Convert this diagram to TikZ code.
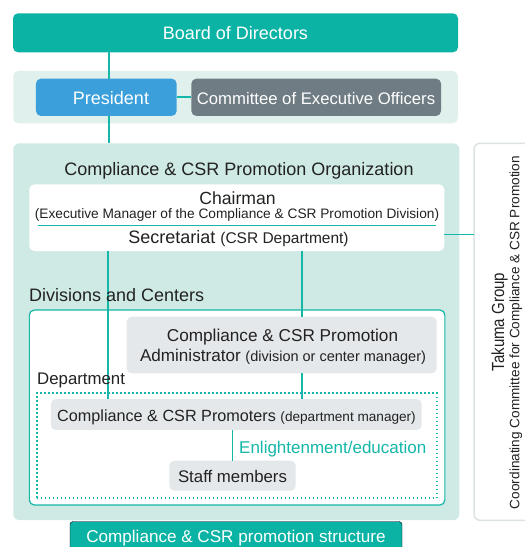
\documentclass[tikz,border=0pt]{standalone}
\usepackage{graphicx}
\usepackage{fontspec}
\setmainfont{Liberation Sans}
\newcommand\fsz[1]{\fontsize{#1}{#1}\selectfont}
\definecolor{tealmain}{HTML}{0BB3A5}
\definecolor{linec}{HTML}{14B7A8}
\definecolor{bandc}{HTML}{E0F0EC}
\definecolor{orgc}{HTML}{CFEAE4}
\definecolor{presc}{HTML}{3A9FDB}
\definecolor{commc}{HTML}{6F7C84}
\definecolor{boxg}{HTML}{E4E8EA}
\definecolor{ink}{HTML}{222222}
\definecolor{frameg}{HTML}{DCE3E3}
\begin{document}
\begin{tikzpicture}[x=1pt,y=-1pt,
  panel/.style={rectangle, rounded corners=5pt, inner sep=0pt, outer sep=0pt},
  txt/.style={inner sep=0pt, anchor=base, text=ink},
  wtxt/.style={inner sep=0pt, anchor=base, text=white},
  link/.style={draw=linec, line width=1.7pt}]
\useasboundingbox (0,0) rectangle (525,547);

% background panels
\node[panel, fill=bandc, minimum width=444.5, minimum height=52.3] (band) at (235.5,97.1) {};
\node[panel, fill=orgc, rounded corners=6pt, minimum width=446, minimum height=376.7] (org) at (236.3,331.7) {};
\draw[fill=white, draw=frameg, line width=1.5pt, rounded corners=6pt] (474,143.3) rectangle (540,520.3);
\node[inner sep=0pt, minimum width=66, minimum height=377] (takuma) at (507,331.8) {};

% boxes
\node[panel, fill=tealmain, minimum width=445, minimum height=39] (board) at (235.5,32.8) {};
\node[panel, fill=presc, minimum width=140.7, minimum height=37.3] (pres) at (106.3,97.3) {};
\node[panel, fill=commc, minimum width=249.7, minimum height=37.3] (comm) at (316.2,97.3) {};
\node[panel, fill=white, minimum width=415, minimum height=66.7] (chair) at (236.8,217.7) {};
\node[panel, fill=white, draw=linec, line width=1.2pt, minimum width=415.5, minimum height=195] (div) at (237.1,407.5) {};
\node[rectangle, draw=linec, line width=1.5pt, dash pattern=on 1.5pt off 2.5pt, minimum width=400, minimum height=105, inner sep=0pt] (dept) at (236.8,445.6) {};
\node[panel, fill=boxg, minimum width=310, minimum height=56.6] (admin) at (281.7,345) {};
\node[panel, fill=boxg, minimum width=370.7, minimum height=31] (prom) at (236.3,414.6) {};
\node[panel, fill=boxg, minimum width=126.4, minimum height=30] (staff) at (232.5,475.7) {};
\draw[fill=tealmain, rounded corners=3pt] (70,521.5) rectangle (402,556);
\node[inner sep=0pt, minimum width=332, minimum height=26] (tab) at (236,534.5) {};

% connectors
\coordinate (spine) at (109.2,0);
\coordinate (spineb) at (108,0);
\coordinate (adm) at (301.7,0);
\coordinate (rowc) at (0,234.5);
\draw[link] (board.south -| spine) -- (pres.north -| spine);
\draw[link] (pres.south -| spine) -- (org.north -| spine);
\draw[link] (pres.east) -- (comm.west);
\draw[link] (chair.east |- rowc) -- (takuma.west |- rowc);
\draw[link] (chair.south -| spineb) -- (prom.north -| spineb);
\draw[link] (chair.south -| adm) -- (admin.north -| adm);
\draw[link] (admin.south -| adm) -- (prom.north -| adm);
\draw[link] (prom.south -| staff.north) -- (staff.north);
\draw[draw=linec, line width=1.4pt] ([xshift=9pt]chair.west |- 0,225.7) coordinate (sepl) -- ([xshift=-8pt]chair.east |- 0,225.7) coordinate (sepr);

% labels
\node[wtxt] (tboard) at (235.5,39) {\fsz{18}Board of Directors};
\node[wtxt] (tpres) at (111,104) {\fsz{18}President};
\node[wtxt] (tcomm) at (316,104) {\fsz{16.7}Committee of Executive Officers};
\node[txt] (torg) at (239,175) {\fsz{18}Compliance \& CSR Promotion Organization};
\node[txt] (tchair) at (237.5,204.3) {\fsz{17.6}Chairman};
\node[txt] (tchsub) at (237,218.3) {\fsz{13.7}(Executive Manager of the Compliance \& CSR Promotion Division)};
\node[txt] (tsec) at (238.5,243.3) {\fsz{18}Secretariat {\fsz{15.5}(CSR Department)}};
\node[txt, anchor=base west] (tdiv) at (29,301.7) {\fsz{18}Divisions and Centers};
\node[txt] (tadm1) at (282.5,341.7) {\fsz{17.2}Compliance \& CSR Promotion};
\node[txt] (tadm2) at (283,361.7) {\fsz{17.1}Administrator {\fsz{14.5}(division or center manager)}};
\node[txt, anchor=base west] (tdept) at (37,384.2) {\fsz{16.8}Department};
\node[txt] (tprom) at (236.5,421) {\fsz{16.2}Compliance \& CSR Promoters {\fsz{13.6}(department manager)}};
\node[txt, anchor=base west, text=linec] (tedu) at (239,453.3) {\fsz{17}Enlightenment/education};
\node[txt] (tstaff) at (232.5,482.3) {\fsz{16.8}Staff members};
\node[wtxt] (ttab) at (236,542.7) {\fsz{17.1}Compliance \& CSR promotion structure};
\node[txt, rotate=90] (tgroup) at (504,322) {\scalebox{0.86}[1]{\fsz{17.5}Takuma Group}};
\node[txt, rotate=90] (tcoord) at (519.3,332.5) {\fsz{13.6}Coordinating Committee for Compliance \& CSR Promotion};
\end{tikzpicture}
\end{document}
